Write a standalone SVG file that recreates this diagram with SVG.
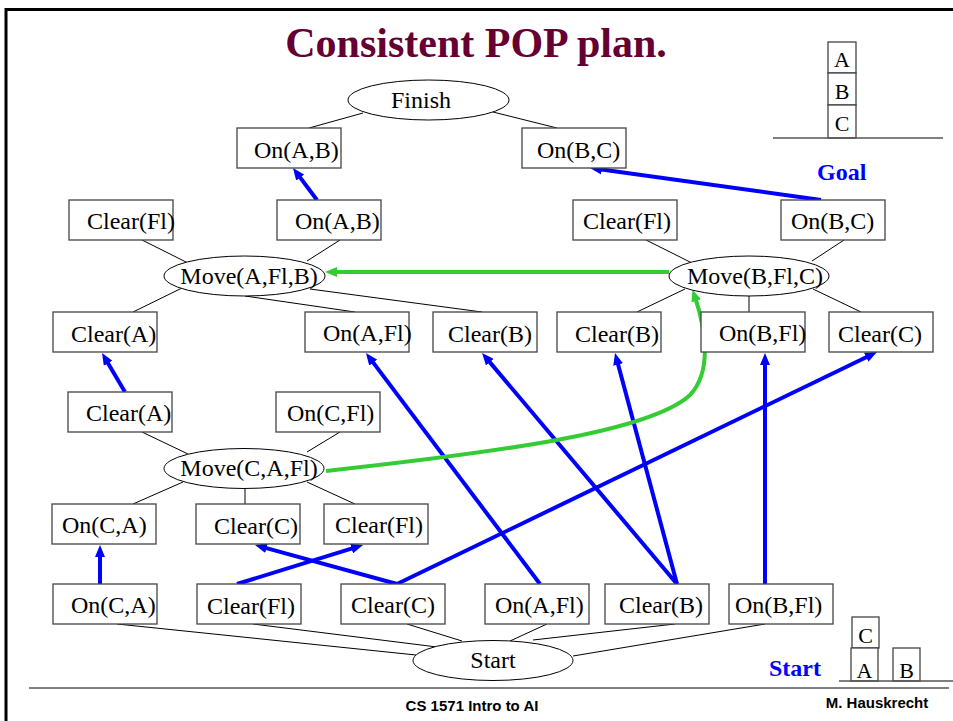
<svg xmlns="http://www.w3.org/2000/svg" width="953" height="721" viewBox="0 0 953 721">
<style>
.box{fill:#fff;stroke:#444;stroke-width:1.3}
.ell{fill:#fff;stroke:#000;stroke-width:1}
.t{font-family:"Liberation Serif","Times New Roman",serif;font-size:24px;fill:#000}
.tc{font-family:"Liberation Serif","Times New Roman",serif;font-size:24px;fill:#000;text-anchor:middle}
.blk{font-family:"Liberation Serif","Times New Roman",serif;font-size:22px;fill:#000;text-anchor:middle}
.thin{stroke:#000;stroke-width:1;fill:none}
.blue{stroke:#0000ff;stroke-width:4;fill:none;marker-end:url(#ab)}
.green{stroke:#33cc33;stroke-width:4;fill:none;marker-end:url(#ag)}
.lbl{font-family:"Liberation Serif","Times New Roman",serif;font-weight:bold;font-size:24px;fill:#0000ff}
.foot{font-family:"Liberation Sans",Arial,sans-serif;font-weight:bold;font-size:15px;fill:#000}
</style>
<defs>
<marker id="ab" viewBox="0 0 12 10" refX="4" refY="5" markerWidth="12" markerHeight="10" markerUnits="userSpaceOnUse" orient="auto"><path d="M0,0 L12,5 L0,10 z" fill="#0000ff"/></marker>
<marker id="ag" viewBox="0 0 12 10" refX="4" refY="5" markerWidth="12" markerHeight="10" markerUnits="userSpaceOnUse" orient="auto"><path d="M0,0 L12,5 L0,10 z" fill="#33cc33"/></marker>
</defs>
<rect width="953" height="721" fill="#fff"/>
<path d="M6,730 V9.5 H960" fill="none" stroke="#000" stroke-width="3"/>
<text x="476" y="57" text-anchor="middle" font-family="Liberation Serif,'Times New Roman',serif" font-weight="bold" font-size="42" fill="#660033">Consistent POP plan.</text>

<g id="connectors">
<path class="thin" d="M309,128 L363,113 M493,112 L557,128"/>
<path class="thin" d="M142,240 L188,263 M340,240 L307,261"/>
<path class="thin" d="M646,240 L692,263 M844,240 L812,261"/>
<path class="thin" d="M182,288 L133,312 M245,296 L355,312 M310,289 L482,312"/>
<path class="thin" d="M685,289 L637,312 M749,296 L749,312 M813,289 L861,312"/>
<path class="thin" d="M142,432 L188,454 M340,432 L307,452"/>
<path class="thin" d="M183,482 L133,504 M245,488 L245,504 M307,482 L355,504"/>
<path class="thin" d="M117,624 L416,655 M253,624 L437,647 M407,624 L462,641 M547,624 L510,641 M675,624 L533,640 M765,624 L573,656"/>
<line class="blue" x1="821" y1="200" x2="597.9" y2="169.1"/>
<line class="blue" x1="317" y1="200" x2="297.8" y2="174.4"/>
<line class="blue" x1="125" y1="392" x2="106.1" y2="359.9"/>
<line class="blue" x1="100" y1="584" x2="100" y2="553"/>
<line class="blue" x1="237" y1="584" x2="355.4" y2="547.4"/>
<line class="blue" x1="397" y1="584" x2="262.7" y2="547.1"/>
<line class="blue" x1="397" y1="584" x2="869.8" y2="355.5"/>
<line class="blue" x1="540" y1="584" x2="370.8" y2="359.4"/>
<line class="blue" x1="677" y1="584" x2="487.2" y2="359.1"/>
<line class="blue" x1="677" y1="584" x2="617.1" y2="360.7"/>
<line class="blue" x1="765" y1="584" x2="765" y2="361"/>
<line class="green" x1="669" y1="272" x2="333" y2="272"/>
<path class="green" d="M326,471 C500,452 650,432 690,395 C712,372 706,330 695,297"/>
</g>

<g id="finish"><ellipse class="ell" cx="428.5" cy="100" rx="80.5" ry="20"/><text class="tc" x="421" y="108">Finish</text></g>
<g id="onAB_top"><rect class="box" x="237" y="128" width="104" height="40"/><text class="t" x="254" y="158">On(A,B)</text></g>
<g id="onBC_top"><rect class="box" x="522" y="128" width="104" height="40"/><text class="t" x="537" y="158">On(B,C)</text></g>

<g id="clearFl_1"><rect class="box" x="69" y="200" width="104" height="40"/><text class="t" x="87" y="229">Clear(Fl)</text></g>
<g id="onAB_2"><rect class="box" x="277" y="200" width="104" height="40"/><text class="t" x="295" y="229">On(A,B)</text></g>
<g id="clearFl_2"><rect class="box" x="573" y="200" width="104" height="40"/><text class="t" x="583" y="229">Clear(Fl)</text></g>
<g id="onBC_2"><rect class="box" x="781" y="200" width="104" height="40"/><text class="t" x="791" y="229">On(B,C)</text></g>

<g id="moveAFlB"><ellipse class="ell" cx="244.5" cy="276" rx="80.5" ry="20"/><text class="tc" x="249" y="284">Move(A,Fl,B)</text></g>
<g id="moveBFlC"><ellipse class="ell" cx="749" cy="276" rx="80" ry="20"/><text class="tc" x="755" y="284">Move(B,Fl,C)</text></g>

<g id="clearA_1"><rect class="box" x="53" y="312" width="104" height="40"/><text class="t" x="71" y="342">Clear(A)</text></g>
<g id="onAFl_1"><rect class="box" x="305" y="312" width="104" height="40"/><text class="t" x="323" y="341">On(A,Fl)</text></g>
<g id="clearB_1"><rect class="box" x="433" y="312" width="104" height="40"/><text class="t" x="448" y="342">Clear(B)</text></g>
<g id="clearB_2"><rect class="box" x="557" y="312" width="104" height="40"/><text class="t" x="575" y="342">Clear(B)</text></g>
<g id="onBFl_1"><rect class="box" x="701" y="312" width="104" height="40"/><text class="t" x="719" y="341">On(B,Fl)</text></g>
<g id="clearC_1"><rect class="box" x="829" y="312" width="104" height="40"/><text class="t" x="838" y="342">Clear(C)</text></g>

<g id="clearA_2"><rect class="box" x="68" y="392" width="104" height="40"/><text class="t" x="86" y="421">Clear(A)</text></g>
<g id="onCFl"><rect class="box" x="276" y="392" width="104" height="40"/><text class="t" x="287" y="421">On(C,Fl)</text></g>

<g id="moveCAFl"><ellipse class="ell" cx="244" cy="468.5" rx="80" ry="20"/><text class="tc" x="249" y="476">Move(C,A,Fl)</text></g>

<g id="onCA_1"><rect class="box" x="52" y="504" width="104" height="40"/><text class="t" x="62" y="533">On(C,A)</text></g>
<g id="clearC_2"><rect class="box" x="196" y="504" width="104" height="40"/><text class="t" x="214" y="534">Clear(C)</text></g>
<g id="clearFl_3"><rect class="box" x="324" y="504" width="104" height="40"/><text class="t" x="335" y="533">Clear(Fl)</text></g>

<g id="onCA_s"><rect class="box" x="53" y="584" width="104" height="40"/><text class="t" x="71" y="613">On(C,A)</text></g>
<g id="clearFl_s"><rect class="box" x="197" y="584" width="104" height="40"/><text class="t" x="207" y="614">Clear(Fl)</text></g>
<g id="clearC_s"><rect class="box" x="341" y="584" width="104" height="40"/><text class="t" x="351" y="613">Clear(C)</text></g>
<g id="onAFl_s"><rect class="box" x="485" y="584" width="104" height="40"/><text class="t" x="495" y="613">On(A,Fl)</text></g>
<g id="clearB_s"><rect class="box" x="605" y="584" width="104" height="40"/><text class="t" x="619" y="613">Clear(B)</text></g>
<g id="onBFl_s"><rect class="box" x="729" y="584" width="104" height="40"/><text class="t" x="735" y="613">On(B,Fl)</text></g>

<g id="start"><ellipse class="ell" cx="493" cy="660.5" rx="80" ry="20"/><text class="tc" x="493" y="668">Start</text></g>

<g id="goalState">
<rect class="box" x="828" y="42" width="28" height="31"/><text class="blk" x="842" y="67">A</text>
<rect class="box" x="828" y="73" width="28" height="32"/><text class="blk" x="842" y="99">B</text>
<rect class="box" x="828" y="105" width="28" height="33"/><text class="blk" x="842" y="131">C</text>
<line x1="773" y1="138" x2="943" y2="138" stroke="#555" stroke-width="1.3"/>
<text class="lbl" x="817" y="180">Goal</text>
</g>
<g id="startState">
<rect class="box" x="852" y="617" width="27" height="31"/><text class="blk" x="865.5" y="643">C</text>
<rect class="box" x="851" y="648" width="27" height="33"/><text class="blk" x="864.5" y="678">A</text>
<rect class="box" x="893" y="648" width="27" height="33"/><text class="blk" x="906.5" y="678">B</text>
<line x1="839" y1="681" x2="953" y2="681" stroke="#555" stroke-width="1.3"/>
<text class="lbl" x="769" y="676">Start</text>
</g>

<line x1="29" y1="688" x2="949" y2="688" stroke="#000" stroke-width="1"/>
<text class="foot" x="472" y="711" text-anchor="middle">CS 1571 Intro to AI</text>
<text class="foot" x="877" y="708" text-anchor="middle">M. Hauskrecht</text>
</svg>
